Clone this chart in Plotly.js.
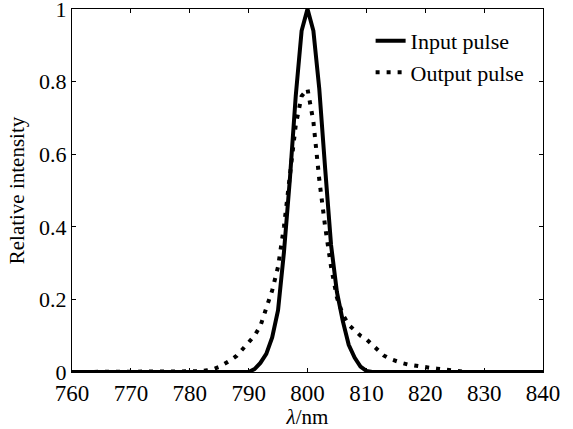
<!DOCTYPE html>
<html>
<head>
<meta charset="utf-8">
<script src="https://cdn.plot.ly/plotly-3.0.1.min.js"></script>
<style>html,body{margin:0;padding:0;background:#fff;}#chart{width:573px;height:429px;}</style>
</head>
<body>
<div id="chart"></div>
<script>
// wavelength grid (nm)
const wavelength = [760,761,762,763,764,765,766,767,768,769,770,771,772,773,774,775,776,777,778,779,
  780,781,782,783,784,785,786,787,788,789,790,791,792,793,794,795,796,797,798,799,
  800,801,802,803,804,805,806,807,808,809,810,811,812,813,814,815,816,817,818,819,
  820,821,822,823,824,825,826,827,828,829,830,831,832,833,834,835,836,837,838,839,840];

const inputPulse = [0,0,0,0,0,0,0,0,0,0,0,0,0,0,0,0,0,0,0,0,
  0,0,0,0,0,0,0,0,0,0,0,0.008,0.025,0.05,0.095,0.17,0.33,0.53,0.76,0.94,
  1.0,0.94,0.78,0.56,0.35,0.22,0.14,0.075,0.04,0.015,0.003,0,0,0,0,0,0,0,0,0,
  0,0,0,0,0,0,0,0,0,0,0,0,0,0,0,0,0,0,0,0,0];

const outputPulse = [0,0,0,0,0,0,0,0,0,0,0,0,0,0,0,0,0,0,0,0,
  0,0,0.002,0.005,0.008,0.014,0.022,0.033,0.045,0.062,0.08,0.10,0.127,0.172,0.225,0.29,0.40,0.54,0.68,0.76,
  0.78,0.69,0.53,0.40,0.29,0.205,0.158,0.13,0.115,0.10,0.09,0.075,0.06,0.045,0.036,0.03,0.025,0.021,0.018,0.015,
  0.013,0.011,0.009,0.007,0.005,0.003,0.002,0,0,0,0,0,0,0,0,0,0,0,0,0,0];

const seriesNames = ["Input pulse", "Output pulse"];
const xTicks = [760,770,780,790,800,810,820,830,840];
const yTicks = [0,0.2,0.4,0.6,0.8,1];
const yTickText = ["0","0.2","0.4","0.6","0.8","1"];

const font = "'Liberation Serif', 'Times New Roman', serif";

const traces = [
  {x: wavelength, y: inputPulse, name: seriesNames[0], mode: "lines",
   line: {color: "#000", width: 4}},
  {x: wavelength, y: outputPulse, name: seriesNames[1], mode: "lines",
   line: {color: "#000", width: 4, dash: "4px,7px"}}
];

const layout = {
  width: 573, height: 429,
  margin: {l: 72, r: 30, t: 9, b: 57},
  paper_bgcolor: "#fff", plot_bgcolor: "#fff",
  font: {family: font, color: "#000", size: 20},
  showlegend: true,
  legend: {x: 0.634, y: 0.97, xanchor: "left", yanchor: "top",
    bgcolor: "rgba(0,0,0,0)", borderwidth: 0,
    font: {family: font, size: 22, color: "#000"}, tracegroupgap: 0},
  xaxis: {range: [760, 840], tickvals: xTicks, ticks: "inside", ticklen: 4,
    tickcolor: "#000", mirror: "ticks", showline: true, linecolor: "#000", linewidth: 1,
    showgrid: false, zeroline: false, tickfont: {family: font, size: 23},
    ticklabeloverflow: "allow",
    title: {text: "<i>λ</i>/nm", font: {family: font, size: 21}, standoff: 2}},
  yaxis: {range: [0, 1], tickvals: yTicks, ticktext: yTickText, ticks: "inside", ticklen: 4,
    tickcolor: "#000", mirror: "ticks", showline: true, linecolor: "#000", linewidth: 1,
    showgrid: false, zeroline: false, tickfont: {family: font, size: 22},
    ticklabeloverflow: "allow",
    title: {text: "Relative intensity", font: {family: font, size: 21}, standoff: 8}}
};

Plotly.newPlot("chart", traces, layout, {displayModeBar: false, staticPlot: true});
</script>
</body>
</html>
